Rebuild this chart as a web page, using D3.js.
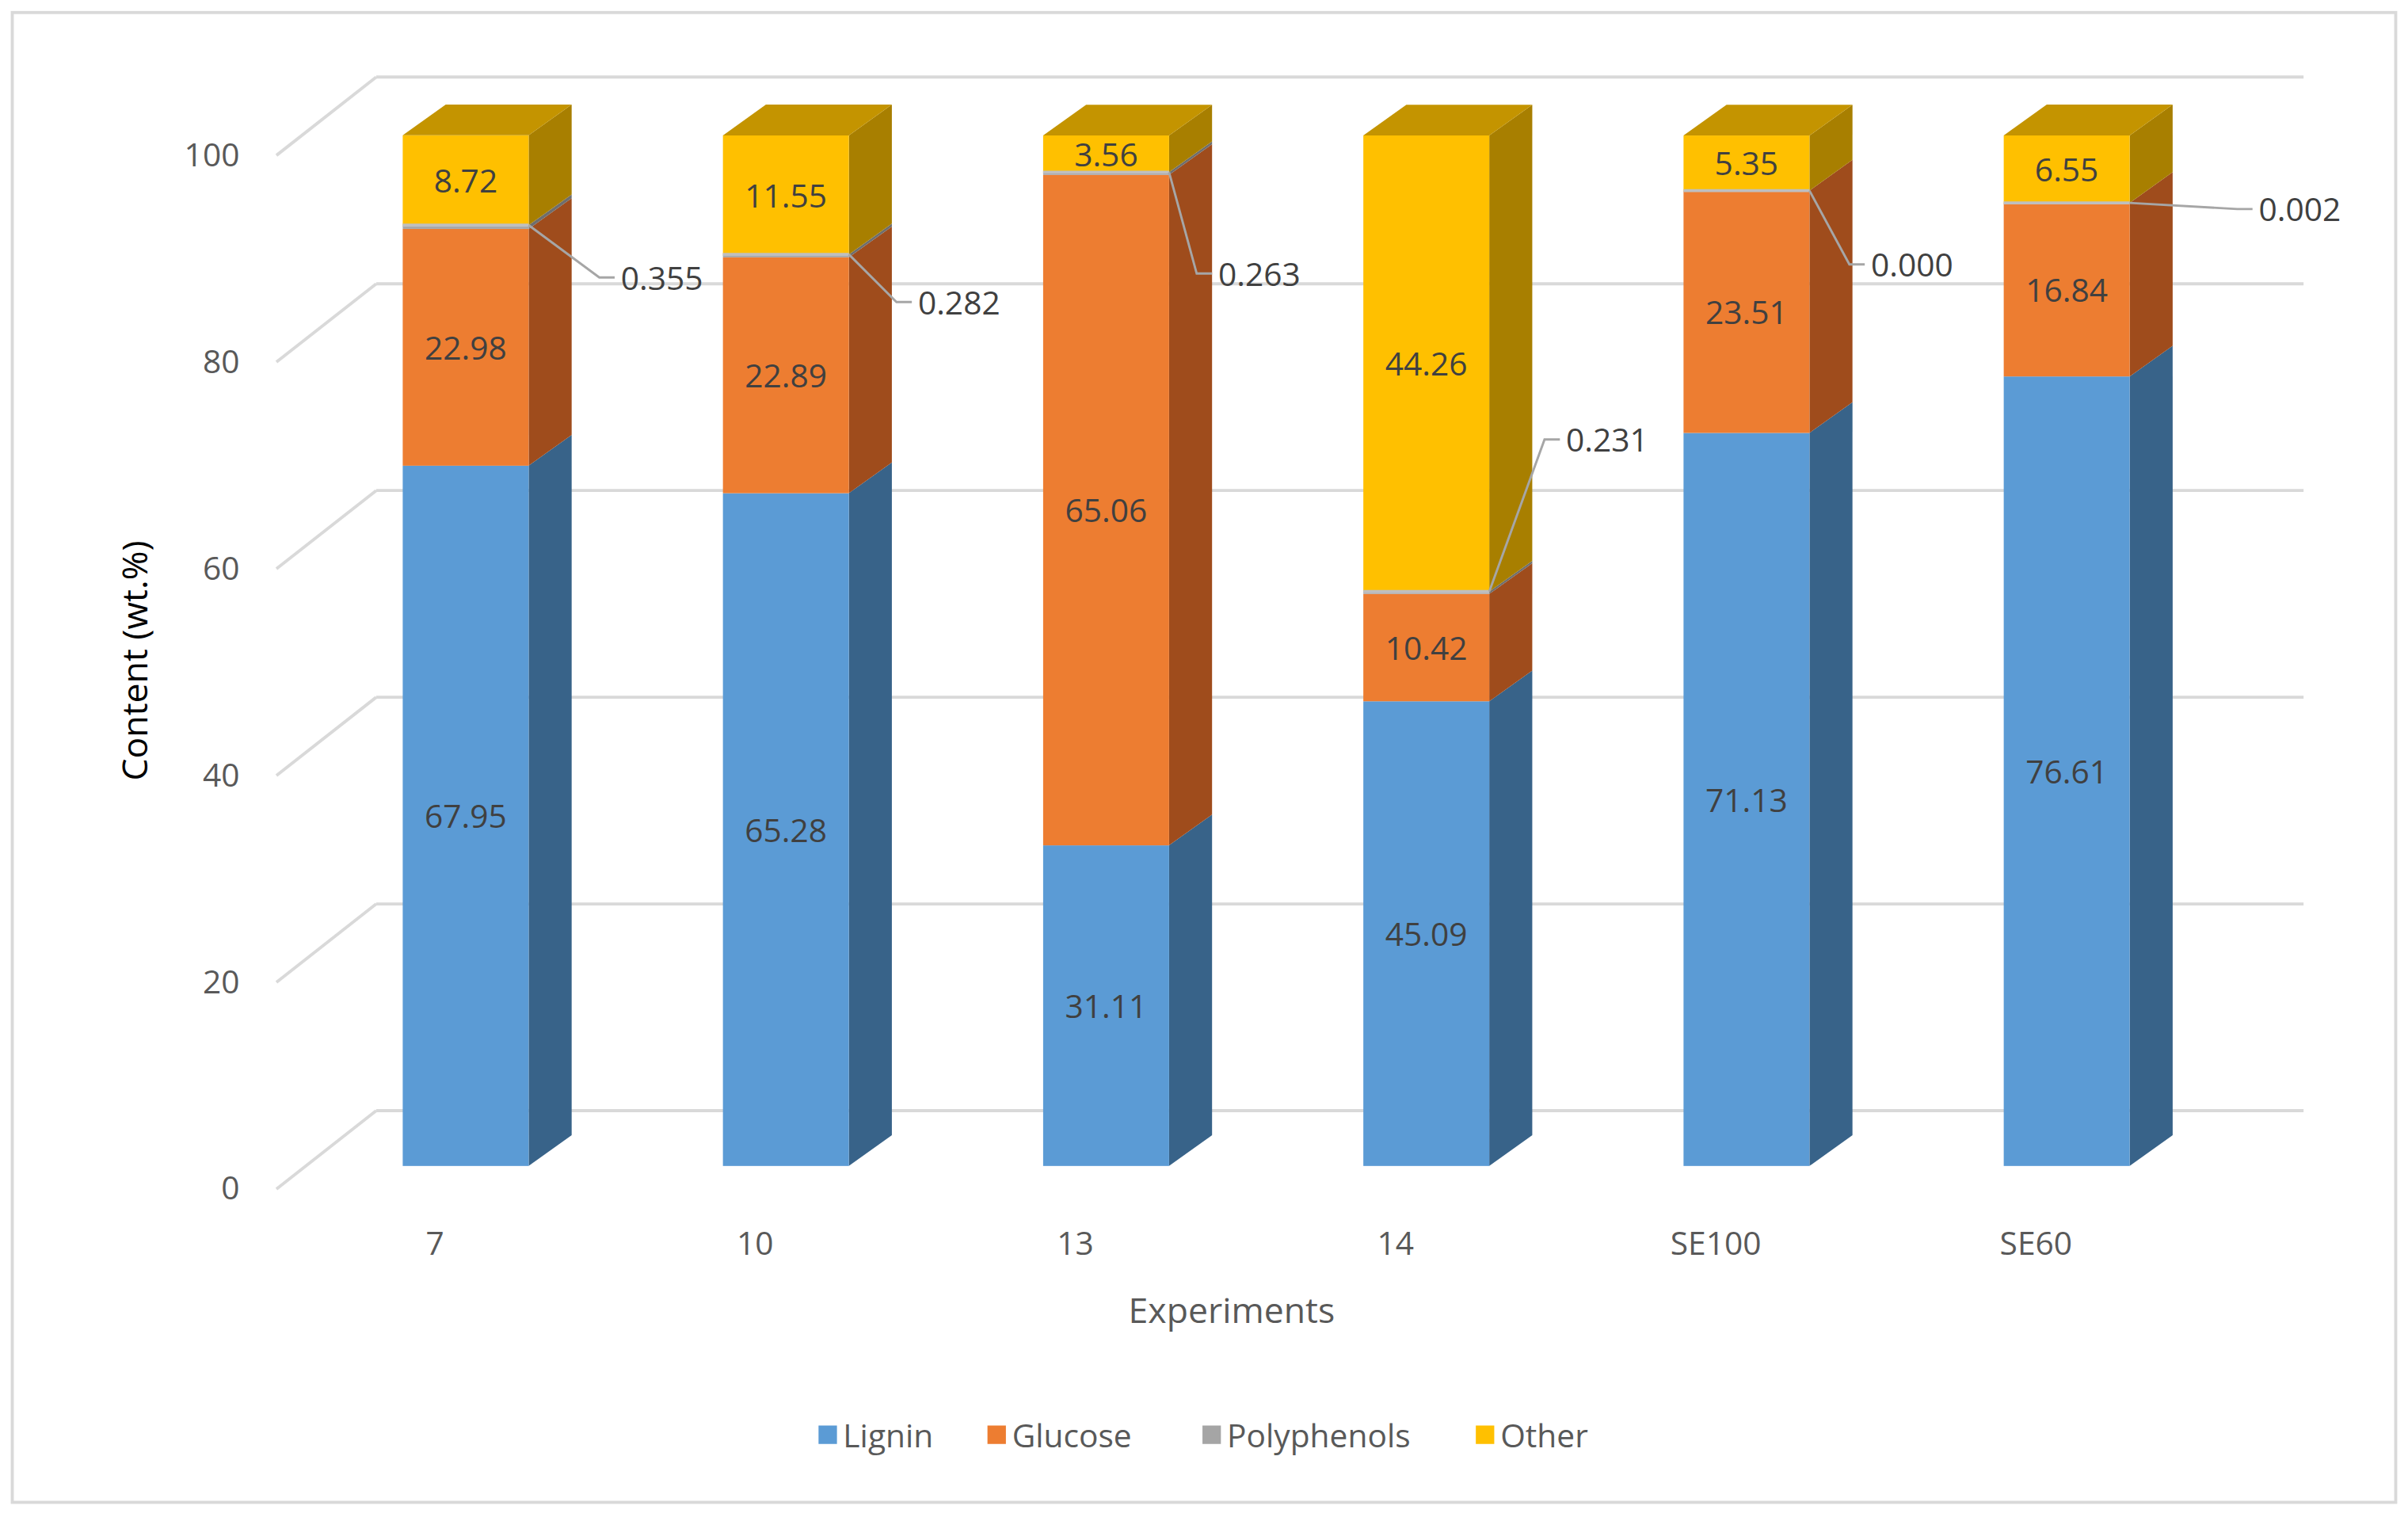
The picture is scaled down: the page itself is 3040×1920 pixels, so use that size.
<!DOCTYPE html>
<html><head><meta charset="utf-8">
<style>body{margin:0;background:#fff}</style>
</head><body>
<svg id="chart" width="3040" height="1920" viewBox="0 0 1568 990" xmlns="http://www.w3.org/2000/svg"></svg>
<script src="https://d3js.org/d3.v7.min.js"></script>
<script>
const categories = ["7", "10", "13", "14", "SE100", "SE60"];
const lignin = [67.95, 65.28, 31.11, 45.09, 71.13, 76.61];
const glucose = [22.98, 22.89, 65.06, 10.42, 23.51, 16.84];
const polyphenols = [0.355, 0.282, 0.263, 0.231, 0.000, 0.002];
const polyLabels = ["0.355", "0.282", "0.263", "0.231", "0.000", "0.002"];
const other = [8.72, 11.55, 3.56, 44.26, 5.35, 6.55];
const yTicks = [0, 20, 40, 60, 80, 100];
const seriesNames = ["Lignin", "Glucose", "Polyphenols", "Other"];

// callout label offsets for polyphenols (from bar right edge / boundary)
const calloutPos = [[60, 34], [45, 31], [32, 66], [50, -99], [40, 48], [84, 4]];

const colors = {
  Lignin: {front: "#5b9bd5", side: "#386389"},
  Glucose: {front: "#ed7d31", side: "#9f4c1c"},
  Polyphenols: {front: "#a5a5a5", side: "#6e6e6e"},
  Other: {front: "#ffc000", side: "#a87f00", top: "#c49400"}
};

const font = "'Liberation Sans Narrow', 'Open Sans', sans-serif";
const svg = d3.select("#chart");
svg.append("rect").attr("x", 8).attr("y", 8).attr("width", 1552).attr("height", 970)
  .attr("fill", "#fff").attr("stroke", "#d9d9d9").attr("stroke-width", 2);

const x = d3.scaleBand().domain(categories).range([199, 1450])
  .paddingInner(0.6067).paddingOuter(0.3033);
const y = d3.scaleLinear().domain([0, 100]).range([759, 88]);
const yBack = d3.scaleLinear().domain([0, 100]).range([723, 50]);
const dx = 28, dy = 20;

// grid: back wall and left wall
yTicks.forEach(v => {
  const yb = yBack(v);
  svg.append("line").attr("x1", 245).attr("x2", 1500).attr("y1", yb).attr("y2", yb)
    .attr("stroke", "#d9d9d9").attr("stroke-width", 2);
  svg.append("line").attr("x1", 180).attr("y1", yb + 51).attr("x2", 245).attr("y2", yb)
    .attr("stroke", "#d9d9d9").attr("stroke-width", 2);
  svg.append("text").attr("x", 156).attr("y", yb + 58).attr("text-anchor", "end")
    .attr("font-family", font).attr("font-size", 21).attr("fill", "#595959").text(v);
});

const stack = d3.stack().keys(seriesNames)(categories.map((c, i) => ({
  Lignin: lignin[i], Glucose: glucose[i], Polyphenols: polyphenols[i], Other: other[i]
})));

categories.forEach((c, i) => {
  const x0 = x(c), x1 = x0 + x.bandwidth();
  stack.forEach(layer => {
    const [v0, v1] = layer[i];
    const col = colors[layer.key];
    const yt = y(v1), yb = y(v0);
    svg.append("path")
      .attr("d", `M${x1},${yt}L${x1 + dx},${yt - dy}L${x1 + dx},${yb - dy}L${x1},${yb}Z`)
      .attr("fill", col.side);
    svg.append("rect").attr("x", x0).attr("y", yt).attr("width", x.bandwidth())
      .attr("height", Math.max(0, yb - yt)).attr("fill", col.front);
  });
  // top face
  const top = stack[stack.length - 1][i][1];
  const yt = y(top);
  svg.append("path")
    .attr("d", `M${x0},${yt}L${x0 + dx},${yt - dy}L${x1 + dx},${yt - dy}L${x1},${yt}Z`)
    .attr("fill", colors.Other.top);
  // polyphenol boundary line
  const yp = y(stack[2][i][1]);
  svg.append("line").attr("x1", x0).attr("x2", x1).attr("y1", yp).attr("y2", yp)
    .attr("stroke", "#bfbfbf").attr("stroke-width", 2);

  // value labels
  [["Lignin", lignin[i]], ["Glucose", glucose[i]], ["Other", other[i]]].forEach(([k, v]) => {
    const s = stack[seriesNames.indexOf(k)][i];
    svg.append("text").attr("x", (x0 + x1) / 2).attr("y", (y(s[0]) + y(s[1])) / 2 + 8)
      .attr("text-anchor", "middle").attr("font-family", font).attr("font-size", 21)
      .attr("fill", "#404040").text(d3.format(".2f")(v));
  });

  // polyphenol callout
  const [ox, oy] = calloutPos[i];
  const lx = x1 + ox, ly = yp + oy;
  svg.append("path").attr("d", `M${x1},${yp}L${lx - 14},${ly}L${lx - 4},${ly}`)
    .attr("fill", "none").attr("stroke", "#a6a6a6").attr("stroke-width", 1.5);
  svg.append("text").attr("x", lx).attr("y", ly + 8).attr("font-family", font)
    .attr("font-size", 21).attr("fill", "#404040").text(polyLabels[i]);

  svg.append("text").attr("x", x(c) + x.bandwidth() / 2 - 20).attr("y", 817)
    .attr("text-anchor", "middle").attr("font-family", font).attr("font-size", 21)
    .attr("fill", "#595959").text(c);
});

svg.append("text").attr("x", 802).attr("y", 861).attr("text-anchor", "middle")
  .attr("font-family", font).attr("font-size", 23).attr("fill", "#595959").text("Experiments");
svg.append("text").attr("transform", "translate(96,430) rotate(-90)").attr("text-anchor", "middle")
  .attr("font-family", font).attr("font-size", 23).attr("fill", "#000").text("Content (wt.%)");

// legend
const legendX = [533, 643, 783, 961];
seriesNames.forEach((k, i) => {
  svg.append("rect").attr("x", legendX[i]).attr("y", 928).attr("width", 12).attr("height", 12)
    .attr("fill", colors[k].front);
  svg.append("text").attr("x", legendX[i] + 16).attr("y", 942).attr("font-family", font)
    .attr("font-size", 21).attr("fill", "#595959").text(k);
});
</script>
</body></html>
